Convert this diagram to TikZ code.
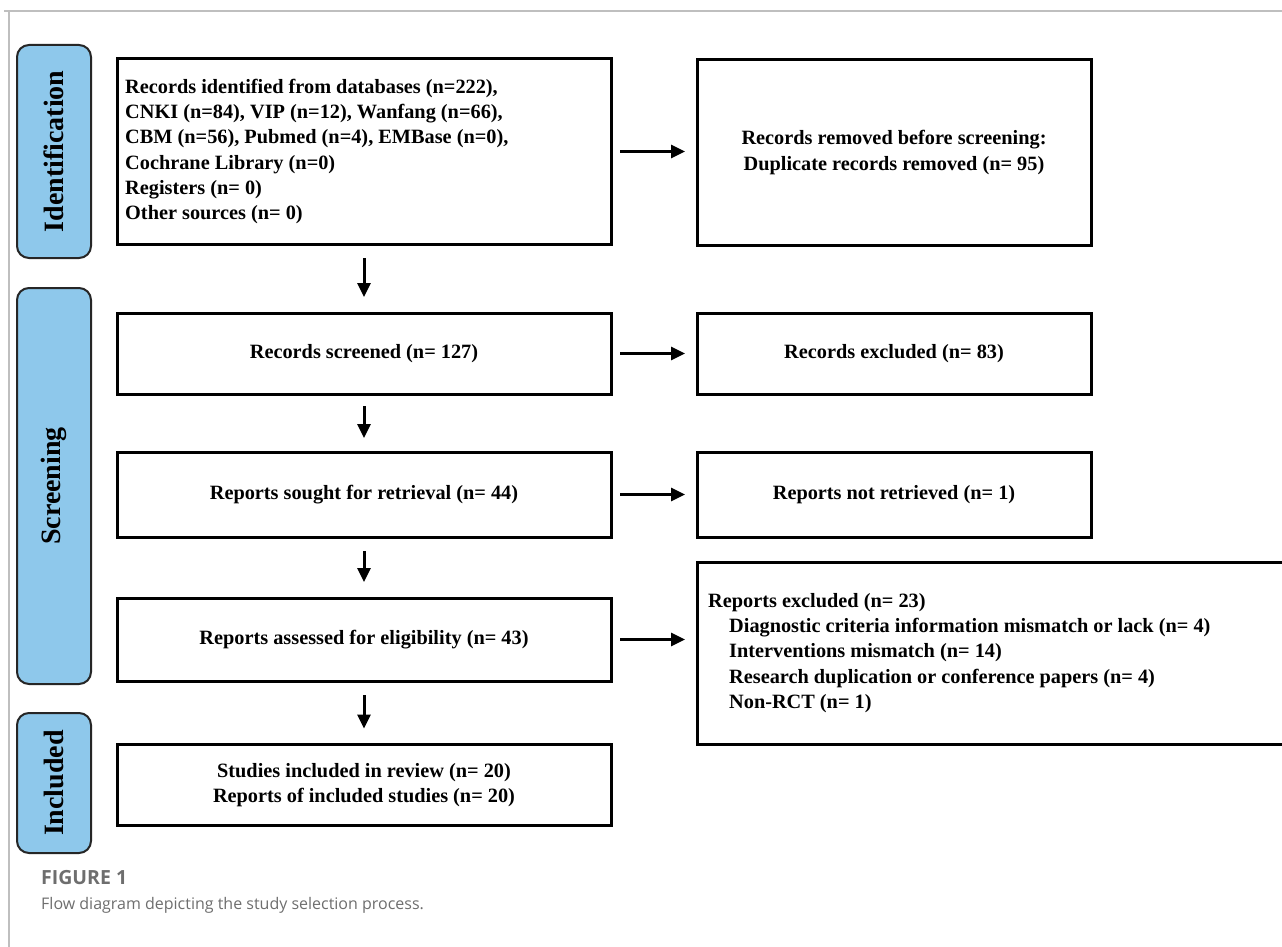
\documentclass[tikz,border=0pt]{standalone}
\usepackage{fontspec}
\setmainfont{Liberation Serif}
\newfontfamily\capfont{Open Sans}
\usetikzlibrary{arrows.meta}
\definecolor{sideblue}{HTML}{8EC8EB}
\definecolor{capgray}{HTML}{6E6E6E}
\begin{document}
\begin{tikzpicture}[x=1pt,y=-1pt,
  boxtxt/.style={font=\bfseries\fontsize{20.3}{25.3}\selectfont},
  mainbox/.style={draw=black, line width=3pt, fill=white, inner sep=0pt, outer sep=0pt, align=center, boxtxt},
  sidebox/.style={draw=black!85, line width=2pt, fill=sideblue, rounded corners=12pt, inner sep=0pt, outer sep=0pt},
  sidetxt/.style={rotate=90, font=\bfseries\fontsize{28}{30}\selectfont, inner sep=0pt},
  arr/.style={line width=3pt, -{Triangle[length=14pt,width=13pt]}},
  frame/.style={draw=black!25, line width=1.2pt}
]
\useasboundingbox (0,0) rectangle (1282,947);
\clip (0,0) rectangle (1282,947);
\fill[white] (0,0) rectangle (1282,947);
\draw[frame] (4,11) -- (1282,11);
\draw[frame] (9,11) -- (9,947);

% side boxes
\node[sidebox, minimum width=74pt, minimum height=213pt] (sid) at (54,151.5) {};
\node[sidebox, minimum width=74pt, minimum height=396pt] (ssc) at (54,486) {};
\node[sidebox, minimum width=74pt, minimum height=140pt] (sin) at (54,783) {};
\node[sidetxt] (tid) at (sid.center) {Identification};
\node[sidetxt] (tsc) at (ssc.center) {Screening};
\node[sidetxt] (tin) at (sin.center) {Included};

% left column
\node[mainbox, minimum width=494pt, minimum height=185pt] (b1) at (364,151.5) {};
\node[boxtxt, anchor=west, align=left, inner sep=0pt] (b1t) at ([xshift=8pt]b1.west) {Records identified from databases (n=222),\\CNKI (n=84), VIP (n=12), Wanfang (n=66),\\CBM (n=56), Pubmed (n=4), EMBase (n=0),\\Cochrane Library (n=0)\\Registers (n= 0)\\Other sources (n= 0)};
\node[mainbox, minimum width=494pt, minimum height=81pt] (b2) at (364,353.5) {Records screened (n= 127)};
\node[mainbox, minimum width=494pt, minimum height=85pt] (b3) at (364,494.5) {Reports sought for retrieval (n= 44)};
\node[mainbox, minimum width=494pt, minimum height=83pt] (b4) at (364,639.5) {Reports assessed for eligibility (n= 43)};
\node[mainbox, minimum width=494pt, minimum height=81pt] (b5) at (364,785) {Studies included in review (n= 20)\\Reports of included studies (n= 20)};

% right column
\node[mainbox, minimum width=394pt, minimum height=185pt] (r1) at (894,152.5) {Records removed before screening:\\Duplicate records removed (n= 95)};
\node[mainbox, minimum width=394pt, minimum height=81pt] (r2) at (894,353.5) {Records excluded (n= 83)};
\node[mainbox, minimum width=394pt, minimum height=85pt] (r3) at (894,494.5) {Reports not retrieved (n= 1)};
\node[mainbox, minimum width=603pt, minimum height=182pt] (r4) at (998.5,653) {};
\node[boxtxt, anchor=west, align=left, inner sep=0pt] (r4t) at ([xshift=11pt]r4.west) {Reports excluded (n= 23)\\
\hspace*{21pt}Diagnostic criteria information mismatch or lack (n= 4)\\
\hspace*{21pt}Interventions mismatch (n= 14)\\
\hspace*{21pt}Research duplication or conference papers (n= 4)\\
\hspace*{21pt}Non-RCT (n= 1)};

% horizontal arrows
\draw[arr] ([xshift=9pt]b1.east) -- ([xshift=-12pt]r1.west |- b1.east);
\draw[arr] ([xshift=9pt]b2.east) -- ([xshift=-12pt]r2.west);
\draw[arr] ([xshift=9pt]b3.east) -- ([xshift=-12pt]r3.west);
\draw[arr] ([xshift=9pt]b4.east) -- ([xshift=-12pt]b4.east -| r4.west);

% vertical arrows
\draw[arr] ([yshift=-14pt]b1.south) -- ([yshift=16pt]b2.north);
\draw[arr] ([yshift=-12pt]b2.south) -- ([yshift=14pt]b3.north);
\draw[arr] ([yshift=-14pt]b3.south) -- ([yshift=16pt]b4.north);
\draw[arr] ([yshift=-14pt]b4.south) -- ([yshift=16pt]b5.north);

% caption
\node[anchor=base west, inner sep=0pt, text=capgray, font=\capfont\bfseries\fontsize{19.5}{24}\selectfont] (cap1) at (41,884) {FIGURE 1};
\node[anchor=base west, inner sep=0pt, text=capgray, font=\capfont\fontsize{16}{20}\selectfont] (cap2) at (41,909) {Flow diagram depicting the study selection process.};
\end{tikzpicture}
\end{document}
